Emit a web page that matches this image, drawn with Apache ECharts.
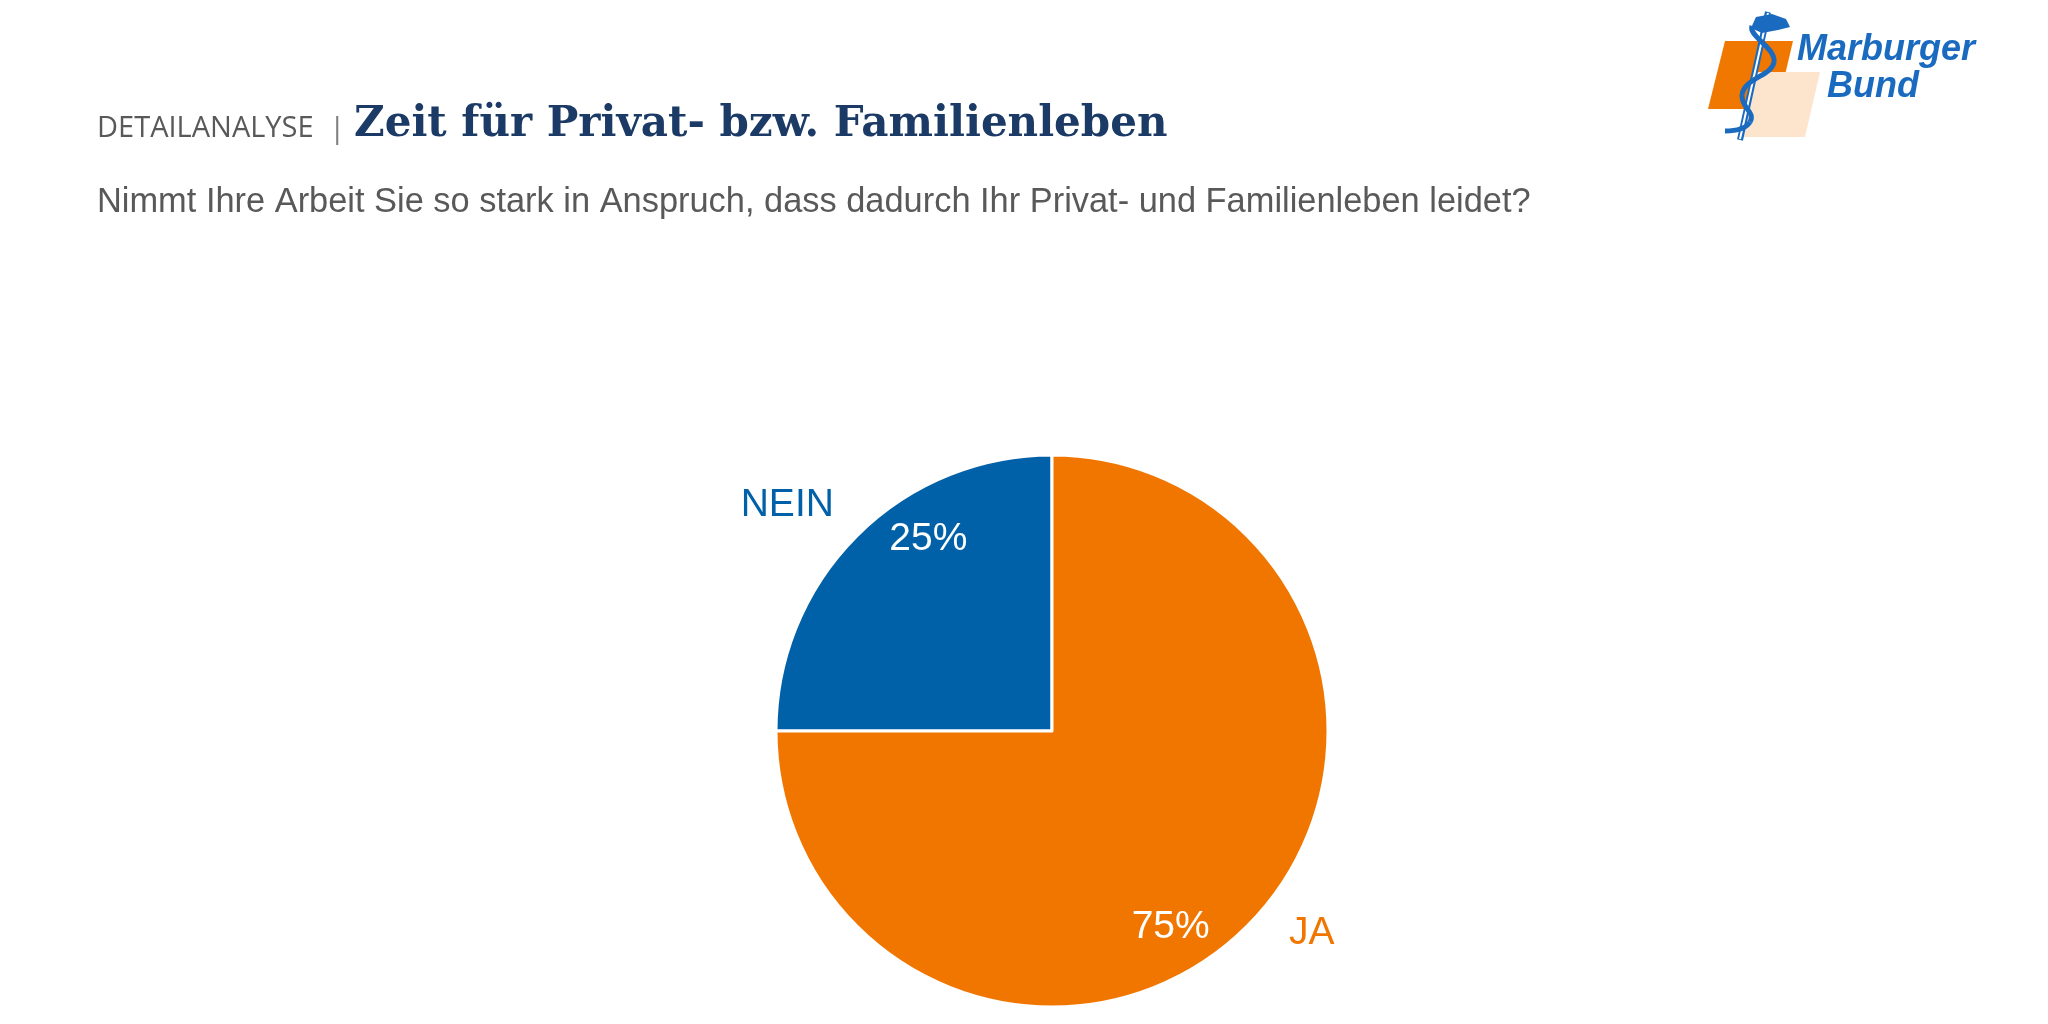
<!DOCTYPE html>
<html>
<head>
<meta charset="utf-8">
<title>Zeit für Privat- bzw. Familienleben</title>
<script src="https://cdn.jsdelivr.net/npm/echarts@6/dist/echarts.min.js"></script>
<style>
html, body { margin: 0; padding: 0; background: #fff; }
#chart { width: 2048px; height: 1024px; }
</style>
</head>
<body>
<div id="chart"></div>
<script>
// data
const categories = ['NEIN', 'JA']
const shares = [25, 75]
const sliceColors = ['#0061A8', '#F07600']

// label offsets from the default 'inside' anchor
const pctOffsets = [[-24, -92], [19, 97]]
const nameOffsets = [[-165, -126], [160, 103]]

const labelFont = { fontFamily: 'Liberation Sans, Arial, sans-serif', fontSize: 39 }
const logoBlue = '#1A6BC0'

// snake on the staff, as a few bezier pieces
const snakeSegments = [
  [1752, 26, 1774, 62, 1748, 36, 1776, 48],
  [1774, 62, 1742, 95, 1772, 76, 1744, 78],
  [1742, 95, 1750, 122, 1741, 108, 1756, 112],
  [1750, 122, 1725, 131, 1745, 130, 1732, 131]
]

const chart = echarts.init(document.getElementById('chart'), null, { renderer: 'canvas' })

const option = {
  backgroundColor: '#ffffff',
  animation: false,
  graphic: [
    {
      type: 'text', x: 97, y: 129,
      style: { text: 'DETAILANALYSE', fill: '#595959', font: '29px "Open Sans", sans-serif', verticalAlign: 'middle' }
    },
    {
      type: 'text', x: 329, y: 129,
      style: { text: '|', fill: '#7f7f7f', font: '30px "Open Sans", sans-serif', verticalAlign: 'middle' }
    },
    {
      type: 'text', x: 354, y: 125,
      style: { text: 'Zeit für Privat- bzw. Familienleben', fill: '#1B3A66', font: 'bold 42px "DejaVu Serif", serif', verticalAlign: 'middle' }
    },
    {
      type: 'text', x: 97, y: 203,
      style: { text: 'Nimmt Ihre Arbeit Sie so stark in Anspruch, dass dadurch Ihr Privat- und Familienleben leidet?', fill: '#595959', font: '34.4px "Liberation Sans", Arial, sans-serif', verticalAlign: 'middle' }
    },
    // logo
    { type: 'polygon', shape: { points: [[1725, 41], [1793, 41], [1777, 109], [1708, 109]] }, style: { fill: '#F07800' } },
    { type: 'polygon', shape: { points: [[1755, 72], [1820, 72], [1805, 137], [1740, 137]] }, style: { fill: '#FDE4CC' } },
    { type: 'line', shape: { x1: 1768, y1: 12, x2: 1740, y2: 140 }, style: { stroke: logoBlue, lineWidth: 6 } },
    { type: 'line', shape: { x1: 1768, y1: 13, x2: 1740, y2: 139 }, style: { stroke: '#ffffff', lineWidth: 2 } },
    ...snakeSegments.map(s => ({
      type: 'bezierCurve',
      shape: { x1: s[0], y1: s[1], x2: s[2], y2: s[3], cpx1: s[4], cpy1: s[5], cpx2: s[6], cpy2: s[7] },
      style: { stroke: logoBlue, lineWidth: 5, fill: null }
    })),
    {
      type: 'polygon',
      shape: { points: [[1751, 28], [1756, 17], [1772, 14], [1786, 19], [1790, 27], [1778, 30], [1762, 33]] },
      style: { fill: logoBlue }
    },
    {
      type: 'text', x: 1797, y: 50,
      style: { text: 'Marburger', fill: logoBlue, font: 'italic bold 36px "Liberation Sans", Arial, sans-serif', verticalAlign: 'middle' }
    },
    {
      type: 'text', x: 1827, y: 87,
      style: { text: 'Bund', fill: logoBlue, font: 'italic bold 36px "Liberation Sans", Arial, sans-serif', verticalAlign: 'middle' }
    }
  ],
  series: [
    {
      type: 'pie',
      center: [1052, 731],
      radius: [0, 276],
      startAngle: 90,
      clockwise: false,
      silent: true,
      itemStyle: { borderColor: '#ffffff', borderWidth: 3 },
      labelLine: { show: false },
      data: categories.map((name, i) => ({
        name: name,
        value: shares[i],
        itemStyle: { color: sliceColors[i] },
        label: {
          show: true,
          position: 'inside',
          formatter: '{c}%',
          color: '#ffffff',
          offset: pctOffsets[i],
          ...labelFont
        }
      }))
    },
    {
      type: 'pie',
      center: [1052, 731],
      radius: [0, 276],
      startAngle: 90,
      clockwise: false,
      silent: true,
      z: 3,
      itemStyle: { color: 'transparent', borderWidth: 0 },
      labelLine: { show: false },
      data: categories.map((name, i) => ({
        name: name,
        value: shares[i],
        label: {
          show: true,
          position: 'inside',
          formatter: '{b}',
          color: sliceColors[i],
          offset: nameOffsets[i],
          ...labelFont
        }
      }))
    }
  ]
}

chart.setOption(option)
window.addEventListener('resize', () => chart.resize())
</script>
</body>
</html>
